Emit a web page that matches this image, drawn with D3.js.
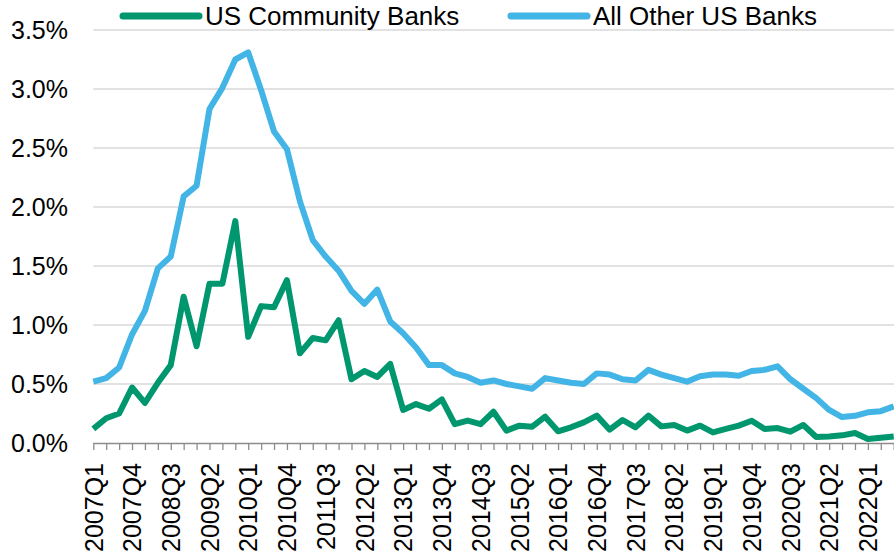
<!DOCTYPE html>
<html>
<head>
<meta charset="utf-8">
<script src="https://cdn.jsdelivr.net/npm/d3@7"></script>
<style>
  html, body { margin: 0; padding: 0; background: #fff; }
  svg { display: block; }
  text { font-family: Arial, "Liberation Sans", sans-serif; fill: #000; }
</style>
</head>
<body>
<svg id="chart" width="894" height="556"></svg>
<script>
const quarters = [
  "2007Q1","2007Q2","2007Q3","2007Q4","2008Q1","2008Q2","2008Q3","2008Q4",
  "2009Q1","2009Q2","2009Q3","2009Q4","2010Q1","2010Q2","2010Q3","2010Q4",
  "2011Q1","2011Q2","2011Q3","2011Q4","2012Q1","2012Q2","2012Q3","2012Q4",
  "2013Q1","2013Q2","2013Q3","2013Q4","2014Q1","2014Q2","2014Q3","2014Q4",
  "2015Q1","2015Q2","2015Q3","2015Q4","2016Q1","2016Q2","2016Q3","2016Q4",
  "2017Q1","2017Q2","2017Q3","2017Q4","2018Q1","2018Q2","2018Q3","2018Q4",
  "2019Q1","2019Q2","2019Q3","2019Q4","2020Q1","2020Q2","2020Q3","2020Q4",
  "2021Q1","2021Q2","2021Q3","2021Q4","2022Q1","2022Q2","2022Q3"
];

const communityBanks = [
  0.12,0.21,0.25,0.47,0.34,0.51,0.66,1.24,0.82,1.35,1.35,1.88,0.90,1.16,1.15,1.38,
  0.76,0.89,0.87,1.04,0.54,0.61,0.56,0.67,0.28,0.33,0.29,0.37,0.16,0.19,0.16,0.265,
  0.105,0.147,0.138,0.223,0.099,0.133,0.175,0.232,0.113,0.195,0.133,0.232,0.141,0.153,0.105,
  0.147,0.09,0.119,0.147,0.189,0.119,0.127,0.096,0.153,0.051,0.056,0.065,0.085,0.034,0.045,0.056
];

const otherBanks = [
  0.52,0.55,0.64,0.92,1.12,1.48,1.58,2.09,2.18,2.83,3.01,3.25,3.31,2.99,2.64,2.49,
  2.05,1.72,1.58,1.46,1.29,1.18,1.30,1.03,0.93,0.81,0.66,0.66,0.59,0.56,0.51,0.53,
  0.50,0.48,0.46,0.55,0.53,0.51,0.50,0.59,0.58,0.54,0.53,0.62,0.58,0.55,0.52,
  0.565,0.58,0.58,0.57,0.61,0.62,0.65,0.54,0.46,0.38,0.28,0.22,0.23,0.26,0.27,0.31
];

const yTicks = [0, 0.5, 1.0, 1.5, 2.0, 2.5, 3.0, 3.5];
const seriesNames = ["US Community Banks", "All Other US Banks"];
const seriesColors = ["#00976F", "#43B4E6"];

const svg = d3.select("#chart");
const plotLeft = 93.3, plotRight = 893.7, plotTop = 30, plotBottom = 443;

const x = d3.scalePoint().domain(quarters).range([plotLeft, plotRight]).padding(0);
const y = d3.scaleLinear().domain([0, 3.5]).range([plotBottom, plotTop]);

// gridlines
svg.append("g")
  .selectAll("line")
  .data(yTicks.filter(d => d > 0))
  .join("line")
  .attr("x1", plotLeft).attr("x2", 894)
  .attr("y1", d => y(d)).attr("y2", d => y(d))
  .attr("stroke", "#d9d9d9").attr("stroke-width", 1.3);

// y axis labels
const yAxis = d3.axisLeft(y).tickValues(yTicks).tickSize(0).tickPadding(0)
  .tickFormat(d => d.toFixed(1) + "%");
const gy = svg.append("g").attr("transform", "translate(68,0)").call(yAxis);
gy.select(".domain").remove();
gy.selectAll("text").attr("font-size", 25).attr("font-family", "Arial, 'Liberation Sans', sans-serif")
  .attr("fill", "#000").attr("dy", "0.35em");

// x axis
const xAxis = d3.axisBottom(x).tickSize(7).tickPadding(0)
  .tickFormat((d, i) => (i % 3 === 0 ? d : ""));
const gx = svg.append("g").attr("transform", `translate(0,${plotBottom})`).call(xAxis);
gx.select(".domain").attr("stroke", "#8c8c8c").attr("stroke-width", 1.3)
  .attr("d", `M${plotLeft},0.5H894`);
gx.selectAll(".tick line").attr("stroke", "#8c8c8c").attr("stroke-width", 1.3);
gx.selectAll(".tick text")
  .attr("font-size", 25).attr("font-family", "Arial, 'Liberation Sans', sans-serif")
  .attr("fill", "#000")
  .attr("transform", "rotate(-90)")
  .attr("text-anchor", "end")
  .attr("x", -20).attr("y", 0).attr("dy", "0.35em");

// lines
const line = d3.line().x((d, i) => x(quarters[i])).y(d => y(d));
[communityBanks, otherBanks].forEach((s, k) => {
  svg.append("path")
    .datum(s)
    .attr("d", line)
    .attr("fill", "none")
    .attr("stroke", seriesColors[k])
    .attr("stroke-width", 6)
    .attr("stroke-linejoin", "round");
});

// legend
const legendItems = [
  { x1: 123, x2: 199, tx: 205 },
  { x1: 511, x2: 587, tx: 593 }
];
const lg = svg.append("g");
legendItems.forEach((it, k) => {
  lg.append("line")
    .attr("x1", it.x1).attr("x2", it.x2).attr("y1", 16).attr("y2", 16)
    .attr("stroke", seriesColors[k]).attr("stroke-width", 7).attr("stroke-linecap", "round");
  lg.append("text")
    .attr("x", it.tx).attr("y", 25)
    .attr("font-size", 26)
    .text(seriesNames[k]);
});
</script>
</body>
</html>
